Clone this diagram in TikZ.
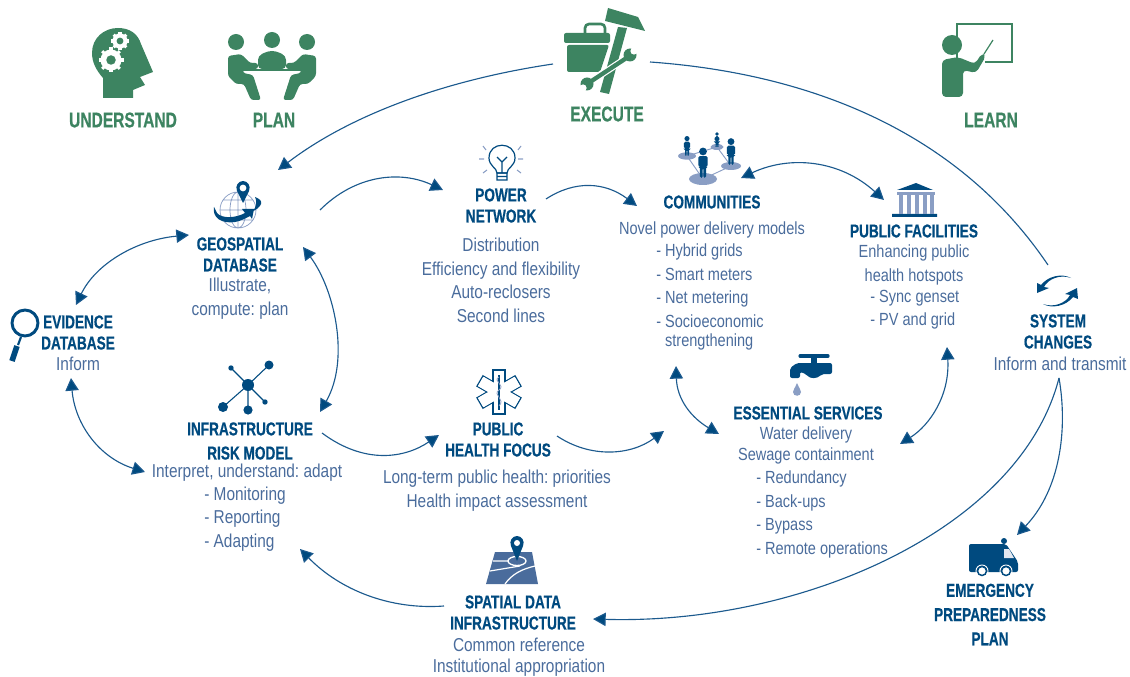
\documentclass[tikz,border=0pt]{standalone}
\usepackage{fontspec}
\setmainfont{Liberation Sans}[FakeStretch=0.826]
\newfontfamily\headfont{Liberation Sans}[FakeStretch=0.73,BoldFeatures={FakeBold=0.5}]
\frenchspacing
\usepackage{tikz}
\usetikzlibrary{arrows.meta,calc}

\definecolor{leaf}{HTML}{3D8461}
\definecolor{navy}{HTML}{004A7F}
\definecolor{slate}{HTML}{4A6C9C}
\definecolor{haze}{HTML}{8A9EC4}
\definecolor{wire}{HTML}{1C5A8E}

\tikzset{
  stage/.style={text=leaf,font=\fontsize{16}{17}\selectfont\headfont\bfseries,inner sep=0pt},
  heading/.style={text=navy,font=\fontsize{14}{15.8}\selectfont\headfont\bfseries,align=center,inner sep=0pt},
  body/.style={text=slate,font=\fontsize{14}{17.7}\selectfont,align=center,inner sep=0pt},
  tight/.style={font=\fontsize{13.2}{17.7}\selectfont},
  listing/.style={body,align=left,anchor=west},
  arc/.style={draw=wire,line width=0.85pt,-{Triangle[length=9.5pt,width=10pt,fill=navy]}},
  twoway/.style={arc,{Triangle[length=9.5pt,width=10pt,fill=navy]}-{Triangle[length=9.5pt,width=10pt,fill=navy]}},
  plainarc/.style={draw=wire,line width=0.85pt},
  personmark/.pic={
    \fill[navy] (0,-26) circle (3.8);
    \fill[navy,rounded corners=1.2] (-4.6,-21.5) -- (4.6,-21.5) -- (4.6,-11) -- (3,-11) -- (3,0) -- (0.4,0) -- (0.4,-10)
      -- (-0.4,-10) -- (-0.4,0) -- (-3,0) -- (-3,-11) -- (-4.6,-11) -- cycle;
  },
  gearmark/.pic={
    \foreach \a in {0,45,...,315} \draw[white,line width=2.3pt] (0,0) -- (\a:10);
    \fill[white] (0,0) circle (8.4);
    \fill[leaf] (0,0) circle (3.8);
  }
}

\begin{document}
\begin{tikzpicture}[x=0.75pt,y=-0.75pt]
      \useasboundingbox (0,0) rectangle (1130,677);

      % stages
      \node[stage] (understand) at (123,120) {UNDERSTAND};
      \node[stage] (plan) at (274,120) {PLAN};
      \node[stage] (execute) at (607,114) {EXECUTE};
      \node[stage] (learn) at (991,120) {LEARN};

      % head
      \fill[leaf] (103,98) -- (103,78) .. controls (96,70) and (92,62) .. (92,53) .. controls (92,38) and (104,28) .. (118,28)
        .. controls (130,28) and (138,34) .. (141,44) -- (153,72) -- (140,77) -- (145,85) -- (133,90) -- (133,98) -- cycle;
      \path (111,60) pic[scale=1.25] {gearmark};
      \path (120,41) pic[scale=0.9] {gearmark};

      % meeting
      \fill[leaf] (236,42) circle (8) (272,40) circle (8) (307,42) circle (8);
      \fill[leaf,rounded corners=2pt] (228,76) -- (228,56) -- (241,54) -- (250,63) -- (258,63) -- (258,69) -- (243,69) -- (243,73) -- (253,75) -- (261,100) -- (251,100) -- (244,84) -- (236,84) -- cycle;
      \fill[leaf,rounded corners=2pt] (316,76) -- (316,56) -- (303,54) -- (294,63) -- (286,63) -- (286,69) -- (301,69) -- (301,73) -- (291,75) -- (283,100) -- (293,100) -- (300,84) -- (308,84) -- cycle;
      \fill[leaf,rounded corners=3pt] (258,69) -- (258,56) -- (268,51) -- (276,51) -- (286,56) -- (286,69) -- cycle;
      \fill[leaf] (243,69.5) rectangle (301,71);

      % toolbox
      \fill[leaf,rounded corners=1.5pt] (564,43) -- (564,33) -- (610,33) -- (610,43) -- cycle;
      \fill[leaf,rounded corners=1.5pt] (567,45) -- (609,45) -- (600,72) -- (567,72) -- cycle;
      \draw[leaf,line width=2pt,rounded corners=3pt] (585,33) -- (585,24) -- (605,24) -- (605,33);
      \fill[leaf] (608,8) -- (638,17) -- (645,31) -- (605,21) -- cycle;
      \draw[white,line width=7pt] (622,26) -- (604,94);
      \fill[leaf] (618,27) -- (627,28) -- (609,94) -- (600,92) -- cycle;
      \draw[white,line width=5pt] (628,57) -- (590,82);
      \draw[leaf,line width=3.2pt] (628,57) -- (590,82);
      \fill[leaf] (630,55) circle (6.5) (587,84) circle (6.5);
      \fill[white] (634,51) circle (3.6) (583,88) circle (3.6);

      % teacher
      \draw[leaf,line width=1.6pt] (957,24) rectangle (1012,62);
      \fill[white] (948,60) rectangle (985,70);
      \fill[leaf] (952,45) circle (10);
      \fill[leaf,rounded corners=3pt] (942,97) -- (942,60) -- (958,57) -- (975,64) -- (982,53) -- (986,56) -- (976,73) -- (963,70) -- (963,97) -- cycle;
      \draw[leaf,line width=0.9pt] (984,54) -- (993,40);

      % geospatial
      \node[heading] (geoTitle) at (240,254.5) {GEOSPATIAL\\DATABASE};
      \node[body] (geoText) at (240,298.5) {Illustrate,\\compute: plan};
      \draw[haze,line width=0.55pt] (238,210) circle (18) (238,210) ellipse (8 and 18) (220,210) -- (256,210) (223,200) -- (253,200) (223,220) -- (253,220) (238,192) -- (238,228);
      \fill[navy] (214,207) .. controls (212,218) and (222,224) .. (235,222) .. controls (241,221) and (246,218) .. (250,216) -- (252,219) -- (254,209) -- (242,209) -- (245,213)
        .. controls (236,218) and (222,219) .. (217,213) -- cycle;
      \fill[navy] (255,197) .. controls (260,199) and (262,201) .. (261,204) .. controls (260,207) and (256,210) .. (253,211) .. controls (255,208) and (258,204) .. (255,197) -- cycle;
      \fill[navy] (237,191) .. controls (235,186) and (238,181) .. (243,181) .. controls (248,181) and (251,186) .. (249,191) -- (243,203) -- cycle;
      \fill[white] (243,188) circle (3.4);

      % power network
      \node[heading] (powerTitle) at (501,205.5) {POWER\\NETWORK};
      \node[body] (powerText) at (501,280.5) {Distribution\\Efficiency and flexibility\\Auto-reclosers\\Second lines};
      \draw[navy,line width=0.9pt] (497,173) .. controls (497,168) and (489,166) .. (489,158) .. controls (489,141) and (515,141) .. (515,158) .. controls (515,166) and (507,168) .. (507,173) -- cycle;
      \draw[navy,line width=0.9pt] (497,173) rectangle (507,180) (497,176.5) -- (507,176.5) (502,173) -- (502,162) -- (497,157) (502,162) -- (507,157);
      \draw[haze,line width=0.8pt] (483,146) -- (486,150) (479,159) -- (484,159) (483,173) -- (487,170) (521,146) -- (518,150) (523,159) -- (518,159) (521,173) -- (517,170);

      % communities
      \node[heading] (commTitle) at (712,202) {COMMUNITIES};
      \node[body,tight] (commText) at (712,230) {Novel power delivery models};
      \node[listing,tight] (commList) at (656,297) {- Hybrid grids\\- Smart meters\\- Net metering\\- Socioeconomic\\[-3.5pt]\phantom{- }strengthening};
      \draw[haze,line width=0.7pt] (687,156) -- (703,179) -- (731,166) -- (717,147) -- (687,156);
      \fill[haze] (703,179) ellipse (14 and 6) (687,156) ellipse (9 and 3.7) (717,147) ellipse (6.5 and 3) (731,166) ellipse (10 and 4);
      \path (703,178) pic[scale=1.02] {personmark};
      \path (687,156) pic[scale=0.67] {personmark};
      \path (717,147) pic[scale=0.5] {personmark};
      \path (731,165) pic[scale=0.9] {personmark};

      % public facilities
      \node[heading] (pubTitle) at (914,231) {PUBLIC FACILITIES};
      \node[body,tight] (pubText) at (914,265) {Enhancing public\\health hotspots};
      \node[listing,tight] (pubList) at (870,309.5) {- Sync genset\\- PV and grid};
      \fill[navy] (897,190) -- (916,183) -- (933,190) -- cycle (892,214) rectangle (937,217);
      \fill[haze] (897,192) rectangle (935,195);
      \foreach \xa in {899,907,915,923,930} \fill[haze] (\xa,195) rectangle +(3.5,19);

      % system changes
      \node[heading] (sysTitle) at (1058,331.5) {SYSTEM\\CHANGES};
      \node[body] (sysText) at (1060,364) {Inform and transmit};
      \fill[navy] (1071,278) .. controls (1060,274) and (1048,279) .. (1044,287) -- (1049,288) -- (1037,293) -- (1037,283) -- (1041,285) .. controls (1048,276) and (1062,273) .. (1071,278) -- cycle;
      \fill[navy] (1043,304) .. controls (1054,308) and (1066,303) .. (1070,295) -- (1065,294) -- (1077,288) -- (1078,299) -- (1073,297) .. controls (1066,306) and (1052,309) .. (1043,304) -- cycle;

      % evidence
      \node[heading] (eviTitle) at (78,332.5) {EVIDENCE\\DATABASE};
      \node[body] (eviText) at (78,364) {Inform};
      \draw[navy,line width=2.2pt] (25,323) circle (13);
      \draw[navy,line width=1.6pt] (21,337) -- (18,345);
      \draw[navy,line width=4.2pt] (17,346) -- (12,361);

      % infrastructure
      \node[heading] (infraTitle) at (250,441) {INFRASTRUCTURE\\[2.3pt]RISK MODEL};
      \node[body] (infraText) at (247,473) {Interpret, understand: adapt};
      \node[listing] (infraList) at (204,519) {- Monitoring\\- Reporting\\- Adapting};
      \draw[navy,line width=0.8pt] (248,385) -- (231,368) (248,385) -- (269,365) (248,385) -- (223,407) (248,385) -- (248,410) (248,385) -- (265,402);
      \fill[navy] (248,385) circle (6) (231,368) circle (2.7) (269,365) circle (4.5) (223,407) circle (5) (248,410) circle (4.6) (265,402) circle (2.7);

      % public health
      \node[heading] (healthTitle) at (498,439.5) {PUBLIC\\HEALTH FOCUS};
      \node[body] (healthText) at (497,490.5) {Long-term public health: priorities\\Health impact assessment};
      \foreach \a in {90,30,-30} \draw[navy,line width=0.9pt,fill=white,rotate around={\a:(499,392)}] (477,386) rectangle (521,398);
      \foreach \a in {90,30,-30} \fill[white,rotate around={\a:(499,392)}] (478,386.6) rectangle (520,397.4);
      \draw[navy,line width=1.5pt] (499,375) -- (499,410);
      \draw[haze,line width=0.6pt] (499,377) .. controls (492,381) and (506,385) .. (499,390) .. controls (492,395) and (506,399) .. (499,406);

      % essential services
      \node[heading] (essTitle) at (808,413) {ESSENTIAL SERVICES};
      \node[body,tight] (essText) at (806,445.5) {Water delivery\\[-1.3pt]Sewage containment};
      \node[listing,tight] (essList) at (756,514.5) {- Redundancy\\- Back-ups\\- Bypass\\- Remote operations};
      \draw[navy,line width=2.4pt,line cap=round] (800,356) -- (828,356);
      \fill[navy] (811,356) rectangle (817,364);
      \fill[navy,rounded corners=1.5pt] (790,378) -- (790,368) -- (797,363) -- (832,363) -- (832,374) -- (822,374) .. controls (817,379) and (810,379) .. (806,374) -- (800,372) -- (800,378) -- cycle;
      \fill[haze] (797,383) .. controls (795,388) and (793,390) .. (793,392) .. controls (793,397) and (801,397) .. (801,392) .. controls (801,390) and (799,388) .. (797,383) -- cycle;

      % spatial data
      \node[heading] (spatTitle) at (513,612.5) {SPATIAL DATA\\INFRASTRUCTURE};
      \node[body] (spatText) at (519,657) {Common reference\\[-2pt]Institutional appropriation};
      \fill[slate] (495,552) -- (532,552) -- (538,584) -- (486,584) -- cycle;
      \draw[white,line width=0.9pt] (493,561) -- (512,561) (490,571) -- (520,566) (505,584) .. controls (512,574) and (522,569) .. (535,566);
      \draw[white,line width=1pt,fill=slate] (517,561) ellipse (9 and 4.5);
      \fill[navy] (511,546) .. controls (509,541) and (512,536) .. (517,536) .. controls (522,536) and (525,541) .. (523,546) -- (517,561) -- cycle;
      \fill[white] (517,543) circle (3);

      % emergency
      \node[heading] (emerTitle) at (990,614.5) {EMERGENCY\\[2.4pt]PREPAREDNESS\\[2.4pt]PLAN};
      \fill[navy,rounded corners=1.5pt] (969,572) -- (969,544) -- (1006,544) -- (1018,562) -- (1018,572) -- cycle;
      \fill[navy] (1004,541) circle (3);
      \fill[white!75!haze] (1004,549) -- (1009,549) -- (1014,558) -- (1004,558) -- cycle;
      \draw[white,line width=0.7pt] (982,571) circle (6) (1006,571) circle (6);
      \draw[navy,line width=1.1pt,fill=white] (982,571) circle (4.5) (1006,571) circle (4.5);

      % connector ends
      \coordinate (execOutL) at (553,64);
      \coordinate (geoIn) at (278,170);
      \coordinate (execOutR) at (650,62);
      \coordinate (sysIn) at (1048,265);
      \coordinate (geoOut) at (320,210);
      \coordinate (powerIn) at (443,190);
      \coordinate (powerOut) at (546,199);
      \coordinate (commIn) at (637,206);
      \coordinate (commNote) at (741,178);
      \coordinate (pubNote) at (884,200);
      \coordinate (geoWest) at (189,235);
      \coordinate (eviNorth) at (76,305);
      \coordinate (geoEast) at (303,247);
      \coordinate (infraNorth) at (320,412);
      \coordinate (eviSouth) at (71,378);
      \coordinate (infraWest) at (145,472);
      \coordinate (infraOut) at (322,433);
      \coordinate (healthIn) at (439,435);
      \coordinate (healthOut) at (557,436);
      \coordinate (essNorth) at (664,431);
      \coordinate (commSouth) at (676,366);
      \coordinate (essWest) at (719,434);
      \coordinate (pubSouth) at (947,347);
      \coordinate (essEast) at (900,444);
      \coordinate (sysOut) at (1059,378);
      \coordinate (spatIn) at (593,619);
      \coordinate (emerIn) at (1017,535);
      \coordinate (spatOut) at (444,606);
      \coordinate (infraSouth) at (300,549);

      % connectors
      \draw[arc] (execOutL) .. controls (445,80) and (350,115) .. (geoIn);
      \draw[plainarc] (execOutR) .. controls (790,72) and (950,120) .. (sysIn);
      \draw[arc] (geoOut) .. controls (355,175) and (400,170) .. (powerIn);
      \draw[arc] (powerOut) .. controls (575,180) and (605,182) .. (commIn);
      \draw[twoway] (commNote) .. controls (790,155) and (840,160) .. (pubNote);
      \draw[twoway] (geoWest) .. controls (135,240) and (95,265) .. (eviNorth);
      \draw[twoway] (geoEast) .. controls (335,290) and (350,360) .. (infraNorth);
      \draw[twoway] (eviSouth) .. controls (75,425) and (100,458) .. (infraWest);
      \draw[arc] (infraOut) .. controls (365,465) and (405,458) .. (healthIn);
      \draw[arc] (healthOut) .. controls (590,458) and (630,456) .. (essNorth);
      \draw[twoway] (commSouth) .. controls (677,400) and (692,418) .. (essWest);
      \draw[twoway] (pubSouth) .. controls (950,395) and (930,425) .. (essEast);
      \draw[arc] (sysOut) .. controls (1020,530) and (800,625) .. (spatIn);
      \draw[arc] (sysOut) .. controls (1068,430) and (1060,490) .. (emerIn);
      \draw[arc] (spatOut) .. controls (390,610) and (340,590) .. (infraSouth);
\end{tikzpicture}
\end{document}
